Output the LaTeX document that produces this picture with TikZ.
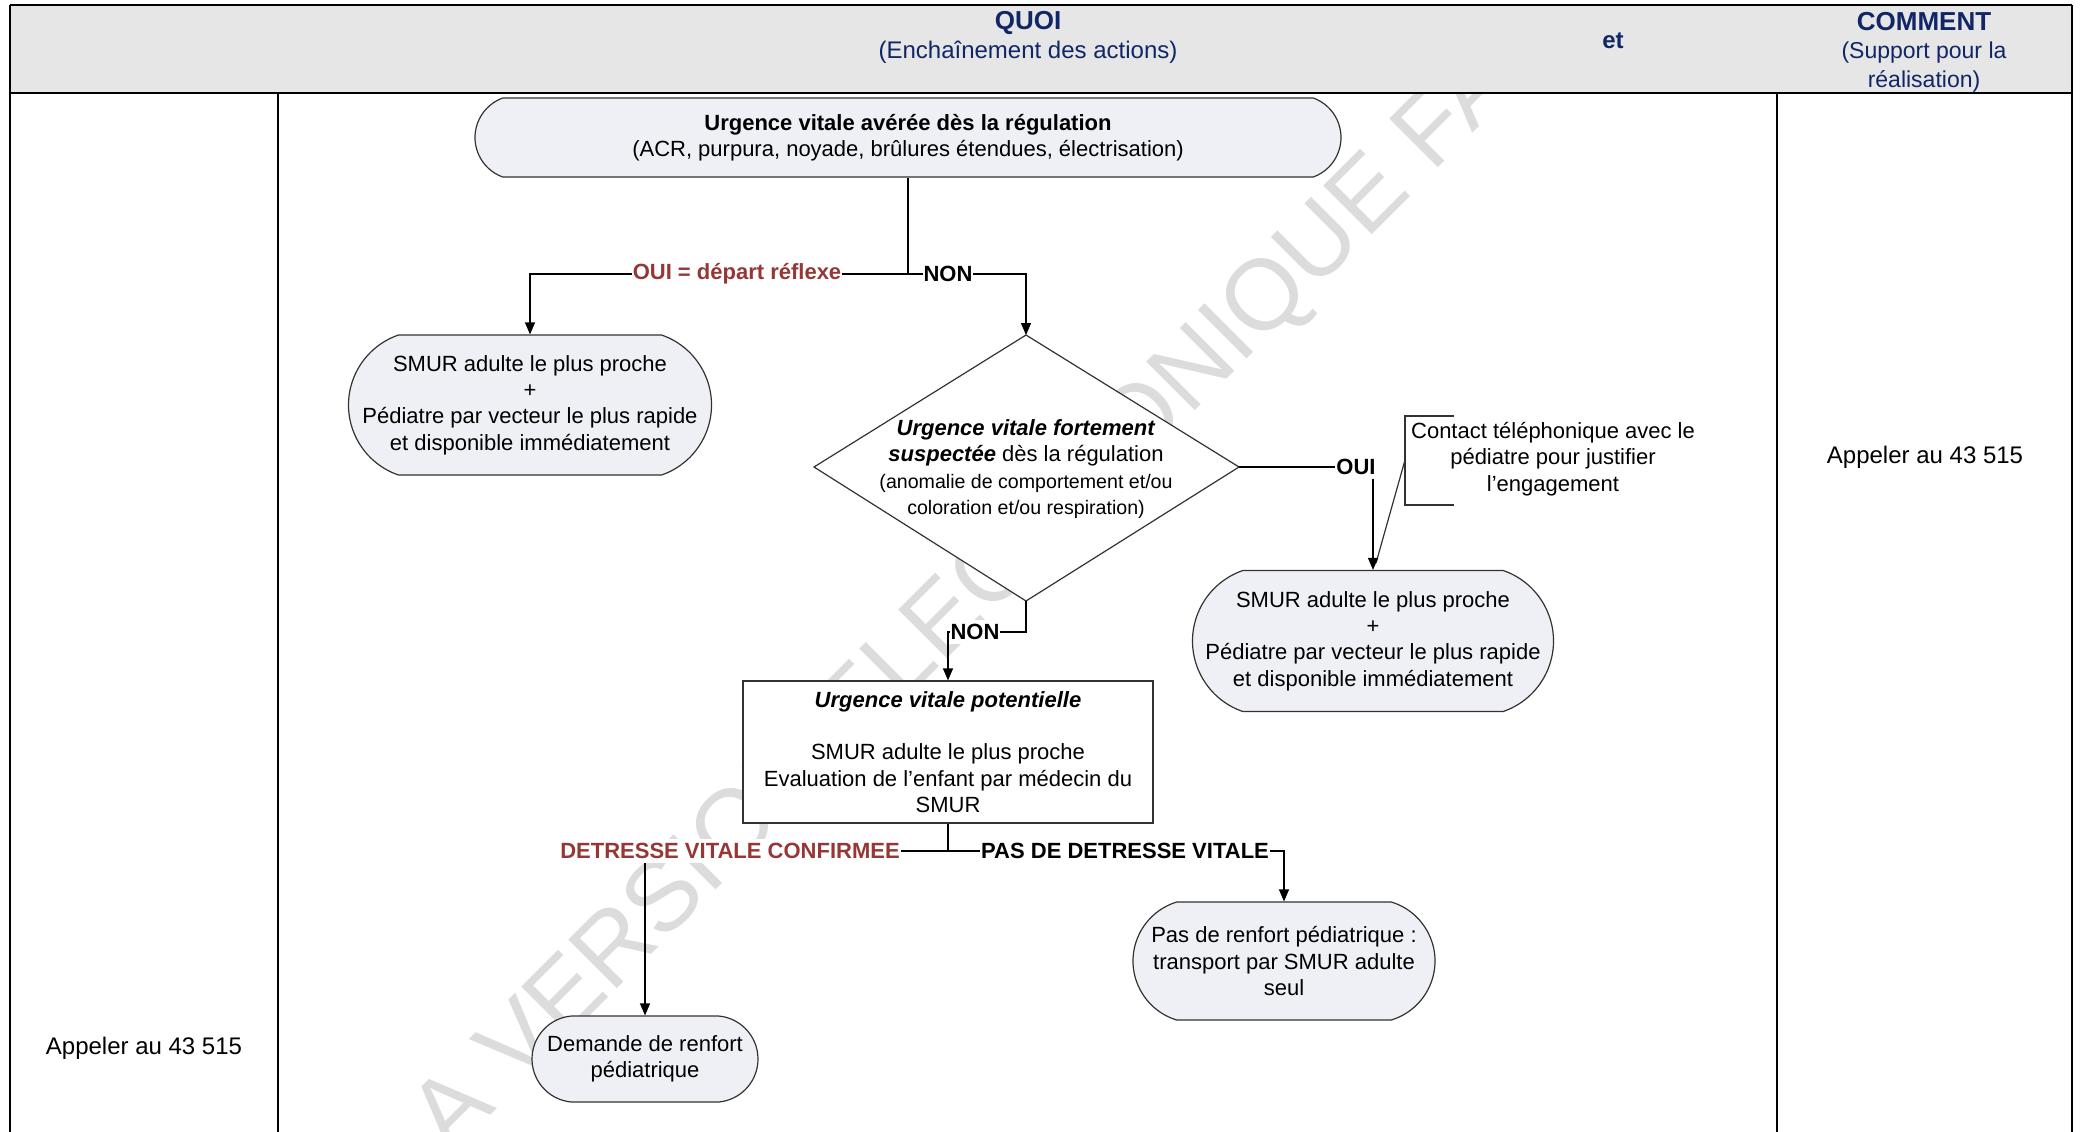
\documentclass[tikz,border=0pt]{standalone}
\usepackage{fontspec}
\setmainfont{Liberation Sans}
\usetikzlibrary{shapes.misc,arrows.meta}
\definecolor{navy}{RGB}{16,38,102}
\definecolor{hdr}{RGB}{230,230,230}
\definecolor{nfill}{RGB}{238,240,245}
\definecolor{edgec}{RGB}{50,50,50}
\definecolor{dred}{RGB}{150,55,53}
\definecolor{wm}{RGB}{220,220,220}
\begin{document}
\begin{tikzpicture}[x=0.5pt,y=-0.5pt,
  txt/.style={font=\fontsize{11}{13.2}\selectfont, align=center, inner sep=0pt},
  term/.style={txt, rounded rectangle, draw=edgec, fill=nfill, line width=0.6pt},
  boxn/.style={txt, rectangle, draw=edgec, fill=white, line width=0.6pt},
  conn/.style={line width=0.6pt, draw=black},
  arr/.style={conn, -{Triangle[length=6pt,width=5pt]}},
  lbl/.style={fill=white, inner xsep=0.5pt, inner ysep=2pt, font=\fontsize{11}{13.2}\selectfont\bfseries},
  grid/.style={line width=1.2pt, draw=black},
  htxt/.style={text=navy, align=center, inner sep=0pt},
  plain/.style={inner sep=0pt, font=\fontsize{12}{14}\selectfont}]
\useasboundingbox (0,0) rectangle (2082,1131);

% watermark
\begin{scope}
\clip (10,93) rectangle (2072,1131);
\node[rotate=45, anchor=base west, text=wm, inner sep=0pt, font=\fontsize{50}{60}\selectfont] (wmark) at (411,1195) {LA VERSION ELECTRONIQUE FAIT FOI};
\end{scope}

% table
\fill[hdr] (10,5) rectangle (2072,93);
\draw[grid] (10,5) -- (2072,5);
\draw[grid] (10,93) -- (2072,93);
\draw[grid] (10,5) -- (10,1140);
\draw[grid] (2072,5) -- (2072,1140);
\draw[grid] (278,93) -- (278,1140);
\draw[grid] (1777,93) -- (1777,1140);

% header
\node[htxt, font=\fontsize{13}{15}\selectfont\bfseries] (quoi) at (1028,23) {QUOI};
\node[htxt, font=\fontsize{12}{14}\selectfont] (quoisub) at (1028,52) {(Enchaînement des actions)};
\node[htxt, font=\fontsize{12}{14}\selectfont\bfseries] (et) at (1613,41) {et};
\node[htxt, font=\fontsize{13}{15}\selectfont\bfseries] (comment) at (1924,22) {COMMENT};
\node[htxt, font=\fontsize{11.5}{14.5}\selectfont] (commentsub) at (1924,67) {(Support pour la\\réalisation)};

% side texts
\node[plain] (app1) at (144,1048) {Appeler au 43 515};
\node[plain] (app2) at (1925,457) {Appeler au 43 515};

% nodes
\node[term, minimum width=433pt, minimum height=39.5pt, rounded rectangle arc length=140] (top) at (908,137.5)
  {\textbf{Urgence vitale avérée dès la régulation}\\(ACR, purpura, noyade, brûlures étendues, électrisation)};
\node[term, minimum width=181.5pt, minimum height=70pt, rounded rectangle arc length=142] (smur1) at (530,405) {};
\node[txt] (smur1t) at (smur1.center)
  {SMUR adulte le plus proche\\+\\Pédiatre par vecteur le plus rapide\\et disponible immédiatement};
\node[term, minimum width=180.5pt, minimum height=70.5pt, rounded rectangle arc length=142] (smur2) at (1373,641) {};
\node[txt] (smur2t) at (smur2.center)
  {SMUR adulte le plus proche\\+\\Pédiatre par vecteur le plus rapide\\et disponible immédiatement};
\node[boxn, minimum width=205pt, minimum height=71pt] (box) at (948,752)
  {\textbf{\textit{Urgence vitale potentielle}}\\[13.2pt]SMUR adulte le plus proche\\Evaluation de l’enfant par médecin du\\SMUR};
\node[term, minimum width=151pt, minimum height=59pt, rounded rectangle arc length=146] (pas) at (1284,961)
  {Pas de renfort pédiatrique :\\transport par SMUR adulte\\seul};
\node[term, minimum width=113pt, minimum height=43pt, rounded rectangle arc length=170] (dem) at (645,1059)
  {Demande de renfort\\pédiatrique};

% diamond
\coordinate (dt) at (1026,335);
\coordinate (dr) at (1239,467);
\coordinate (db) at (1026,601);
\coordinate (dl) at (814,467);
\draw[line width=0.6pt, draw=edgec, fill=white] (dt) -- (dr) -- (db) -- (dl) -- cycle;
\node[txt] (dtext) at (1026,469)
  {\textbf{\textit{Urgence vitale fortement}}\\\textbf{\textit{suspectée}} dès la régulation\\{\fontsize{9.8}{12.5}\selectfont (anomalie de comportement et/ou}\\{\fontsize{9.8}{12.5}\selectfont coloration et/ou respiration)}};

% note
\node[txt] (note) at (1553,459) {Contact téléphonique avec le\\pédiatre pour justifier\\l’engagement};
\coordinate (nb1) at (1454,416);
\coordinate (nb2) at (1405,416);
\coordinate (nb3) at (1405,505);
\coordinate (nb4) at (1454,505);
\coordinate (nc) at (1405,460);
\coordinate (ne) at (1376,563);
\draw[line width=0.6pt, draw=edgec] (nb1) -- (nb2) -- (nb3) -- (nb4);
\draw[line width=0.6pt, draw=edgec] (nc) -- (ne);

% connectors
\coordinate (j1) at (908,274);
\draw[conn] (top.south) -- (j1);
\draw[arr] (j1) -| (smur1.north);
\draw[arr] (j1) -| (dt);
\node[lbl, text=dred] (l1) at (737,274) {OUI = départ réflexe};
\node[lbl] (l2) at (948,274) {NON};

\draw[arr] (dr) -| (smur2.north);
\node[lbl] (l3) at (1356,467) {OUI};

\coordinate (k2) at (1026,632);
\draw[arr] (db) -- (k2) -| (box.north);
\node[lbl] (l4) at (975,632) {NON};

\coordinate (j2) at (948,851);
\draw[conn] (box.south) -- (j2);
\draw[arr] (j2) -| (dem.north);
\draw[arr] (j2) -| (pas.north);
\node[lbl, text=dred] (l5) at (730,851) {DETRESSE VITALE CONFIRMEE};
\node[lbl] (l6) at (1125,851) {PAS DE DETRESSE VITALE};
\end{tikzpicture}
\end{document}
